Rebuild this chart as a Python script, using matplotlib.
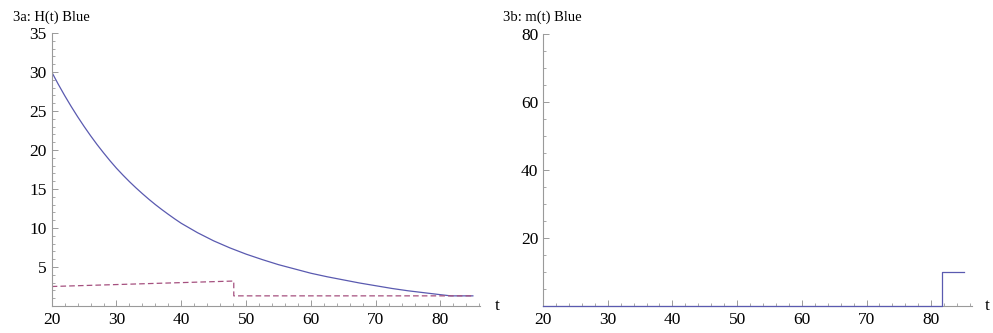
import matplotlib
matplotlib.use("Agg")
import matplotlib.pyplot as plt
from matplotlib.ticker import MultipleLocator

plt.rcParams['font.family'] = ['Liberation Serif', 'DejaVu Serif']

# Panel 3a: H(t) Blue
t_H = [20, 21, 22, 23, 24, 25, 26, 27, 28, 29, 30, 31, 32, 33, 34, 35, 36, 37, 38, 39,
       40, 42.5, 45, 47.5, 50, 52.5, 55, 57.5, 60, 62.5, 65, 67.5, 70, 72.5, 75, 77.5,
       80, 81.6, 85]
H_vals = [30.0, 28.45, 26.98, 25.59, 24.27, 23.02, 21.83, 20.70, 19.64, 18.62, 17.66,
          16.78, 15.94, 15.15, 14.40, 13.68, 13.00, 12.36, 11.75, 11.16,
          10.6, 9.4, 8.35, 7.45, 6.65, 5.95, 5.3, 4.75, 4.2, 3.75, 3.35, 2.95, 2.6,
          2.25, 1.95, 1.7, 1.45, 1.3, 1.3]
t_D = [20, 48.1, 48.1, 85]
D_vals = [2.5, 3.2, 1.3, 1.3]

# Panel 3b: m(t) Blue
t_m = [20, 81.6, 81.6, 85]
m_vals = [0, 0, 10, 10]

blue = '#5a5ab0'
mag = '#a5507f'
gray = '#9a9a9a'
fs_tick = 12.5
fs_title = 10.5

fig = plt.figure(figsize=(9.93, 3.33), dpi=100)
W, Hh = 993, 333

def mk_ax(x0, x1, y_top, y_bot):
    return fig.add_axes([x0 / W, 1 - y_bot / Hh, (x1 - x0) / W, (y_bot - y_top) / Hh])

ax1 = mk_ax(51.7, 480, 33, 306)
ax2 = mk_ax(543, 972, 34, 306)

ax1.plot(t_H, H_vals, color=blue, lw=0.9)
ax1.plot(t_D, D_vals, color=mag, lw=0.9, dashes=(4.5, 2.5))
ax1.set_xlim(20, 86.1)
ax1.set_ylim(0, 35)
ax1.xaxis.set_major_locator(MultipleLocator(10))
ax1.xaxis.set_minor_locator(MultipleLocator(2))
ax1.set_yticks([5, 10, 15, 20, 25, 30, 35])
ax1.yaxis.set_minor_locator(MultipleLocator(1))

ax2.plot(t_m, m_vals, color=blue, lw=0.9, clip_on=False, zorder=5)
ax2.set_xlim(20, 86.3)
ax2.set_ylim(0, 80)
ax2.xaxis.set_major_locator(MultipleLocator(10))
ax2.xaxis.set_minor_locator(MultipleLocator(2))
ax2.set_yticks([20, 40, 60, 80])
ax2.yaxis.set_minor_locator(MultipleLocator(5))

for ax in (ax1, ax2):
    ax.patch.set_visible(False)
    for s in ('top', 'right'):
        ax.spines[s].set_visible(False)
    for s in ('left', 'bottom'):
        ax.spines[s].set_color(gray)
        ax.spines[s].set_linewidth(0.8)
    ax.tick_params(which='major', direction='in', length=4, width=0.7, color=gray,
                   labelsize=fs_tick, labelcolor='black')
    ax.tick_params(which='minor', direction='in', length=2.2, width=0.6, color=gray)
    ax.tick_params(axis='x', which='major', pad=4)
    ax.tick_params(axis='y', which='major', pad=3.5)

fig.text(13 / W, 1 - 21 / Hh, '3a: H(t) Blue', fontsize=fs_title, va='baseline', ha='left')
fig.text(503 / W, 1 - 21 / Hh, '3b: m(t) Blue', fontsize=fs_title, va='baseline', ha='left')
fig.text(495 / W, 1 - 306 / Hh, 't', fontsize=fs_tick, va='center', ha='left')
fig.text(985 / W, 1 - 306 / Hh, 't', fontsize=fs_tick, va='center', ha='left')

fig.savefig('out.png', dpi=100)
